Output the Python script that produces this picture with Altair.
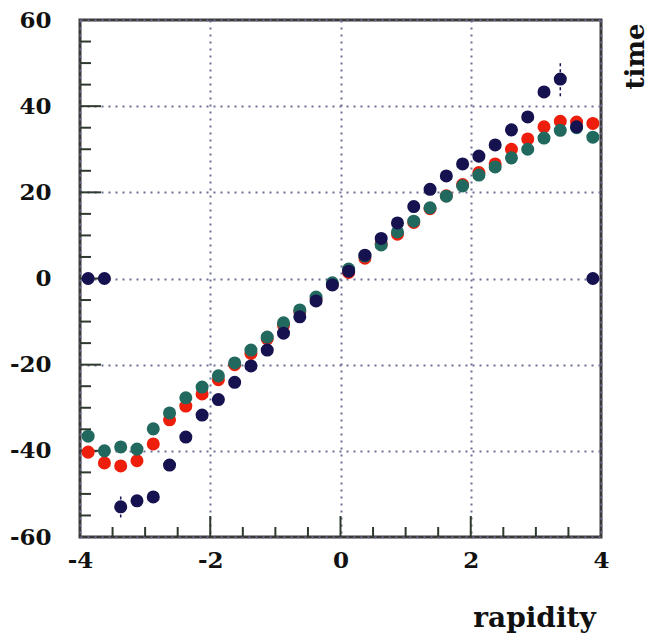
import altair as alt
import pandas as pd

# bin centres (rapidity)
x_vals = [-3.875, -3.625, -3.375, -3.125, -2.875, -2.625, -2.375, -2.125,
          -1.875, -1.625, -1.375, -1.125, -0.875, -0.625, -0.375, -0.125,
          0.125, 0.375, 0.625, 0.875, 1.125, 1.375, 1.625, 1.875,
          2.125, 2.375, 2.625, 2.875, 3.125, 3.375, 3.625, 3.875]

red_vals = [-40.3, -42.8, -43.5, -42.3, -38.4, -32.8, -29.6, -26.8,
            -23.5, -20.0, -17.4, -14.0, -10.8, -7.7, -4.7, -1.4,
            1.4, 4.7, 8.0, 10.3, 13.0, 16.2, 19.2, 21.8,
            24.6, 26.6, 30.0, 32.4, 35.2, 36.5, 36.3, 36.0]

teal_vals = [-36.6, -40.0, -39.1, -39.6, -34.9, -31.2, -27.7, -25.2,
             -22.6, -19.6, -16.6, -13.6, -10.3, -7.3, -4.3, -1.0,
             2.2, 5.2, 7.8, 10.8, 13.3, 16.4, 19.1, 21.5,
             24.0, 25.9, 28.0, 30.0, 32.6, 34.4, 35.0, 32.8]

navy_vals = [0.0, 0.0, -53.0, -51.6, -50.7, -43.3, -36.8, -31.7,
             -28.1, -24.1, -20.3, -16.6, -12.7, -8.9, -5.2, -1.5,
             1.7, 5.4, 9.3, 12.9, 16.7, 20.7, 23.8, 26.6,
             28.4, 31.0, 34.5, 37.5, 43.3, 46.3, 35.2, 0.0]

navy_err = [0, 0, 2.5, 0, 0, 0, 0, 0,
            0, 0, 0, 0, 0, 0, 0, 0,
            0, 0, 0, 0, 0, 0, 0, 0,
            0, 0, 0, 0, 0, 4.0, 0, 0]

series_names = ["red", "teal", "navy"]
series_colors = ["#ee1e0c", "#21695f", "#15124f"]

x_ticks = [-4, -2, 0, 2, 4]
y_ticks = [-60, -40, -20, 0, 20, 40, 60]
x_minor = [-3.5, -3, -2.5, -1.5, -1, -0.5, 0.5, 1, 1.5, 2.5, 3, 3.5]
y_minor = [-55, -50, -45, -35, -30, -25, -15, -10, -5, 5, 10, 15,
           25, 30, 35, 45, 50, 55]
y_major_in = [-40, -20, 0, 20, 40]
x_major_in = [-2, 0, 2]

W, H = 521, 517
FONT = "DejaVu Serif"
LABEL_EXPR = "datum.value < 0 ? '-' + abs(datum.value) : '' + datum.value"

rows = []
for name, vals in zip(series_names, [red_vals, teal_vals, navy_vals]):
    for i, (xv, yv) in enumerate(zip(x_vals, vals)):
        rows.append({"series": name, "x": xv, "y": yv, "order": i})
df = pd.DataFrame(rows)

err_df = pd.DataFrame({"x": x_vals, "y": navy_vals, "e": navy_err})
err_df = err_df[err_df["e"] > 0].copy()
err_df["lo"] = err_df["y"] - err_df["e"]
err_df["hi"] = err_df["y"] + err_df["e"]

xscale = alt.Scale(domain=[-4, 4], nice=False, zero=False)
yscale = alt.Scale(domain=[-60, 60], nice=False, zero=False)

xaxis = alt.Axis(values=x_ticks, grid=True, gridDash=[2, 5], gridColor="#6f6f96",
                 gridWidth=2, gridOpacity=1, tickSize=0, domain=False,
                 labelExpr=LABEL_EXPR,
                 labelFont=FONT, labelFontSize=23, labelFontWeight="bold",
                 labelColor="#111111", labelPadding=12, labelFlush=False,
                 title="rapidity", titleFont=FONT, titleFontSize=28,
                 titleFontWeight="bold", titleColor="#111111",
                 titleX=454, titleY=89, titleAlign="center",
                 titleBaseline="alphabetic")
yaxis = alt.Axis(values=y_ticks, grid=True, gridDash=[2, 5], gridColor="#6f6f96",
                 gridWidth=2, gridOpacity=1, tickSize=0, domain=False,
                 labelExpr=LABEL_EXPR,
                 labelFont=FONT, labelFontSize=23, labelFontWeight="bold",
                 labelColor="#111111", labelPadding=29, labelFlush=False,
                 title="time", titleFont=FONT, titleFontSize=26,
                 titleFontWeight="bold", titleColor="#111111",
                 titleAngle=270, titleX=563, titleY=36, titleAlign="center",
                 titleBaseline="alphabetic")

points = alt.Chart(df).transform_calculate(
    series_rank="datum.series == 'red' ? 0 : (datum.series == 'teal' ? 1 : 2)"
).mark_point(filled=True, shape="circle", size=170, opacity=1).encode(
    x=alt.X("x:Q", scale=xscale, axis=xaxis),
    y=alt.Y("y:Q", scale=yscale, axis=yaxis),
    color=alt.Color("series:N", scale=alt.Scale(domain=series_names, range=series_colors),
                    legend=None),
    order=alt.Order("series_rank:Q"),
)

errs = alt.Chart(err_df).mark_rule(color="#15124f", strokeWidth=1.5, strokeDash=[3, 3]).encode(
    x=alt.X("x:Q", scale=xscale),
    y=alt.Y("lo:Q", scale=yscale),
    y2="hi:Q",
)

tick_color = "#2f3a2f"
ymin_df = pd.DataFrame({"v": y_minor})
ymaj_df = pd.DataFrame({"v": y_major_in})
xmin_df = pd.DataFrame({"v": x_minor})
xmaj_df = pd.DataFrame({"v": x_major_in})

ytick_minor = alt.Chart(ymin_df).mark_rule(color=tick_color, strokeWidth=2).encode(
    y=alt.Y("v:Q", scale=yscale), x=alt.value(0), x2=alt.value(11))
ytick_major = alt.Chart(ymaj_df).mark_rule(color=tick_color, strokeWidth=2).encode(
    y=alt.Y("v:Q", scale=yscale), x=alt.value(0), x2=alt.value(21))
xtick_minor = alt.Chart(xmin_df).mark_rule(color=tick_color, strokeWidth=2).encode(
    x=alt.X("v:Q", scale=xscale), y=alt.value(H), y2=alt.value(H - 10))
xtick_major = alt.Chart(xmaj_df).mark_rule(color=tick_color, strokeWidth=2).encode(
    x=alt.X("v:Q", scale=xscale), y=alt.value(H), y2=alt.value(H - 21))

chart = alt.layer(
    ytick_minor, ytick_major, xtick_minor, xtick_major, errs, points
).properties(
    width=W, height=H,
    autosize=alt.AutoSizeParams(type="none"),
    padding={"left": 80, "top": 20, "right": 48, "bottom": 99},
    background="white",
).configure_view(
    stroke="#3a3a3a", strokeWidth=3
)

chart.save("out.html", embed_options={"renderer": "svg", "actions": False})
